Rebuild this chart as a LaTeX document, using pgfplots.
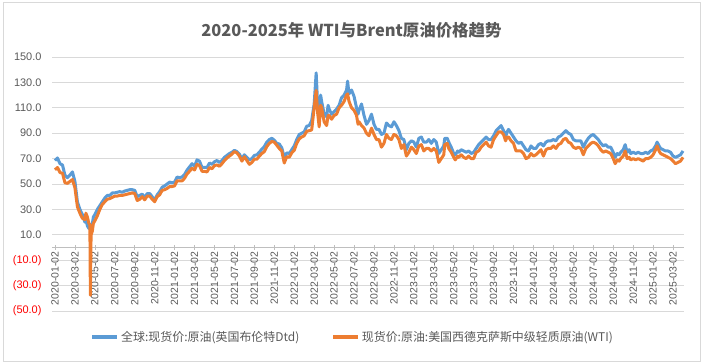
\documentclass[border=0pt]{standalone}
\usepackage{pgfplots}
\pgfplotsset{compat=1.18}
\usepackage{pgfplotstable}
\usepackage{fontspec}
\setmainfont{Liberation Sans}
\newfontfamily\cjk{Noto Sans CJK SC}
\definecolor{cblue}{HTML}{5B9BD5}
\definecolor{corange}{HTML}{ED7D31}
\definecolor{tgray}{HTML}{595959}
\definecolor{ggray}{HTML}{D9D9D9}
\definecolor{agray}{HTML}{BFBFBF}
\pgfplotstableread{
x B W
0 68.5 61.2
0.25 70.5 63.0
0.5 66 59
0.75 65 58.5
1.0 57 51
1.25 55 50.5
1.5 57 52
1.75 59.5 53.5
2.0 52 47
2.25 36 32
2.5 30 27
2.75 26 23
3.0 20 22
3.1 22 27
3.25 17 24
3.4 15 19
3.5 18 18
3.55 18 -37.6
3.62 17 10
3.75 19 13
3.85 24 19
4.0 26 21
4.25 30 25
4.5 33 30
4.75 36 34
5.0 39 36
5.25 41 38
5.5 41 38.5
5.75 43 39.5
6.0 43 40.5
6.25 43.5 40.5
6.5 44 41
6.75 43.5 41
7.0 44.5 41.5
7.25 45 42
7.5 45.5 42.5
7.75 45.5 43
8.0 45 42.5
8.25 40 37
8.5 41 38
8.75 42 40
9.0 39.5 37.5
9.25 42.5 40.5
9.5 42.5 40.5
9.75 40 38
10.0 37.5 36
10.25 41.5 40
10.5 44 41.5
10.75 47.5 45
11.0 48.5 45.5
11.25 50 46.5
11.5 51.5 48
11.75 51 48
12.0 51.5 48.5
12.25 55.5 52.5
12.5 55 52.5
12.75 55.5 52.5
13.0 57.5 54.5
13.25 61 58
13.5 63.5 60
13.75 66 62.5
14.0 64 61
14.25 69 65.5
14.5 68 64.5
14.75 63 60
15.0 63 60
15.25 63 59.5
15.5 66.5 63
15.75 65.5 62
16.0 67.5 64.5
16.25 68.5 65
16.5 67 64
16.75 68.5 66
17.0 71 68.5
17.25 72.5 70.5
17.5 74 72
17.75 75 73.5
18.0 76.5 75.5
18.25 75.5 74.5
18.5 73.5 72
18.75 70 68
19.0 73 71.5
19.25 71 68.5
19.5 69 65.5
19.75 70 67
20.0 72.5 69.5
20.25 73 69.5
20.5 75 72
20.75 77.5 74
21.0 79.5 75.5
21.25 83 79.5
21.5 85 82
21.75 86 83.5
22.0 84.5 83
22.25 82 80.5
22.5 81.5 78
22.75 78.5 76
23.0 71 66.5
23.25 74.5 71.5
23.5 74 71
23.75 77 74.5
24.0 80 76.5
24.25 85 82
24.5 89 85.5
24.75 90 87
25.0 91 88
25.25 95.5 91.5
25.5 96 92
25.75 100 92.5
26.0 113 110
26.2 137.5 123.7
26.35 112 106
26.5 99 95
26.65 120 112
26.75 115 110
27.0 105 99
27.25 103 96
27.4 112 104
27.5 109 104
27.75 105 101
28.0 107 104
28.25 109 105
28.5 112 110
28.75 118 112
29.0 120 115
29.25 124 120
29.35 131 121
29.5 121 115
29.75 124 110
30.0 119 108
30.25 110 104
30.4 105 97
30.5 108 99
30.75 113 96
31.0 104 94
31.25 97 90
31.5 100 88
31.75 105 94
32.0 97 89
32.25 93 85
32.5 93 85
32.75 89 79
33.0 90 82
33.25 98 89
33.5 96 86
33.75 95 85
34.0 99 89
34.25 96 88
34.5 92 85
34.75 86 78
35.0 85 81
35.25 77 72
35.5 82 75
35.75 84 79
36.0 83 77
36.25 79 74
36.5 86 80
36.75 87 81
37.0 83 76
37.25 83 78
37.5 85 78
37.75 82 76
38.0 85 78
38.25 83 76
38.5 74 67
38.75 77 70
39.0 80 73
39.1 86 81
39.35 86 82
39.5 83 78
39.75 79 75
40.0 74 71
40.15 73 69
40.4 76 72
40.5 75 71
40.75 77 73
41.0 76 71
41.25 75 70
41.5 76 72
41.75 74 70
42.0 75 70
42.25 78 75
42.5 81 76
42.75 83 79
43.0 85 81
43.25 87 83
43.5 85 80
43.75 85 79
44.0 88 85
44.25 92 88
44.5 94 91
44.75 96 91
45.0 92 89
45.2 87 84
45.35 91 87
45.5 93 87
45.75 90 84
46.0 87 82
46.25 84 76
46.5 82 76
46.75 83 76
47.0 80 74
47.25 77 70
47.5 76 71
47.75 80 74
48.0 78 72
48.25 78 73
48.5 81 75
48.75 82 77
49.0 80 72
49.25 83 77
49.5 84 78
49.75 84 78
50.0 85 80
50.25 84 78
50.5 87 81
50.75 88 82
51.0 90 85
51.25 92 86
51.5 90 83
51.75 89 82
52.0 85 79
52.25 84 78
52.5 84 79
52.75 84 78
53.0 79 73
53.25 83 78
53.5 86 80
53.75 88 82
54.0 89 83
54.25 87 82
54.5 85 80
54.75 82 77
55.0 80 75
55.25 81 76
55.5 79 75
55.75 79 74
56.0 75 70
56.2 71 66
56.4 74 69
56.6 73 68
56.75 75 70
57.0 77 72
57.2 81 76
57.4 75 70
57.6 77 71
57.75 74 69
58.0 75 70
58.25 74 69
58.5 75 70
58.75 74 69
59.0 74 68
59.25 75 70
59.5 74 70
59.75 76 71
60.0 77 73
60.25 80 77
60.4 83 80
60.6 80 76
60.75 78 74
61.0 77 73
61.25 76 72
61.5 76 71
61.75 75 70
62.0 72 68
62.25 71 66
62.5 72 67
62.75 73 68
63.0 76 71
}\oil
\begin{document}
\begin{tikzpicture}
\useasboundingbox (0,0) rectangle (703bp,363bp);
\draw[ggray, line width=0.8bp] (3bp,2bp) rectangle (700bp,361bp);
\node[font=\cjk\bfseries\fontsize{16.5}{18}\selectfont, text=tgray] at (351.5bp,333bp) {2020-2025年 WTI与Brent原油价格趋势};
\begin{axis}[
  at={(52bp,52bp)}, anchor=south west,
  scale only axis, width=632bp, height=254bp,
  xmin=-0.3, xmax=63.1, ymin=-50, ymax=150,
  axis x line=middle, axis y line=left,
  x axis line style={-, draw=agray, line width=0.8bp},
  y axis line style={draw=none},
  ytick={-50,-30,...,150},
  yticklabels={{\color{red}(50.0)},{\color{red}(30.0)},{\color{red}(10.0)},10.0,30.0,50.0,70.0,90.0,110.0,130.0,150.0},
  ytick style={draw=none},
  ymajorgrids, grid style={ggray, line width=0.8bp},
  yticklabel style={font=\fontsize{11}{12}\selectfont, text=tgray, xshift=-5bp},
  xtick={0,2,...,62},
  xticklabels={2020-01-02,2020-03-02,2020-05-02,2020-07-02,2020-09-02,2020-11-02,2021-01-02,2021-03-02,2021-05-02,2021-07-02,2021-09-02,2021-11-02,2022-01-02,2022-03-02,2022-05-02,2022-07-02,2022-09-02,2022-11-02,2023-01-02,2023-03-02,2023-05-02,2023-07-02,2023-09-02,2023-11-02,2024-01-02,2024-03-02,2024-05-02,2024-07-02,2024-09-02,2024-11-02,2025-01-02,2025-03-02},
  xticklabel style={rotate=90, anchor=east, font=\fontsize{10.5}{12}\selectfont, text=tgray, inner sep=2bp},
  xtick style={draw=agray, line width=0.6bp},
  major tick length=4bp,
  tick align=center,
  legend columns=2,
  legend style={at={(0.476,-0.102)}, anchor=center, draw=none, fill=none,
    font=\cjk\fontsize{12}{14}\selectfont, text=tgray,
    /tikz/every even column/.append style={column sep=30bp}},
  legend image code/.code={\draw[#1, line width=3.5bp] (0bp,0bp) -- (25bp,0bp);},
  clip=false,
]
\addplot[cblue, line width=3bp, line join=round] table[x=x, y=B] {\oil};
\addlegendentry{全球:现货价:原油(英国布伦特Dtd)}
\addplot[corange, line width=3bp, line join=round] table[x=x, y=W] {\oil};
\addlegendentry{现货价:原油:美国西德克萨斯中级轻质原油(WTI)}
\end{axis}
\end{tikzpicture}
\end{document}
